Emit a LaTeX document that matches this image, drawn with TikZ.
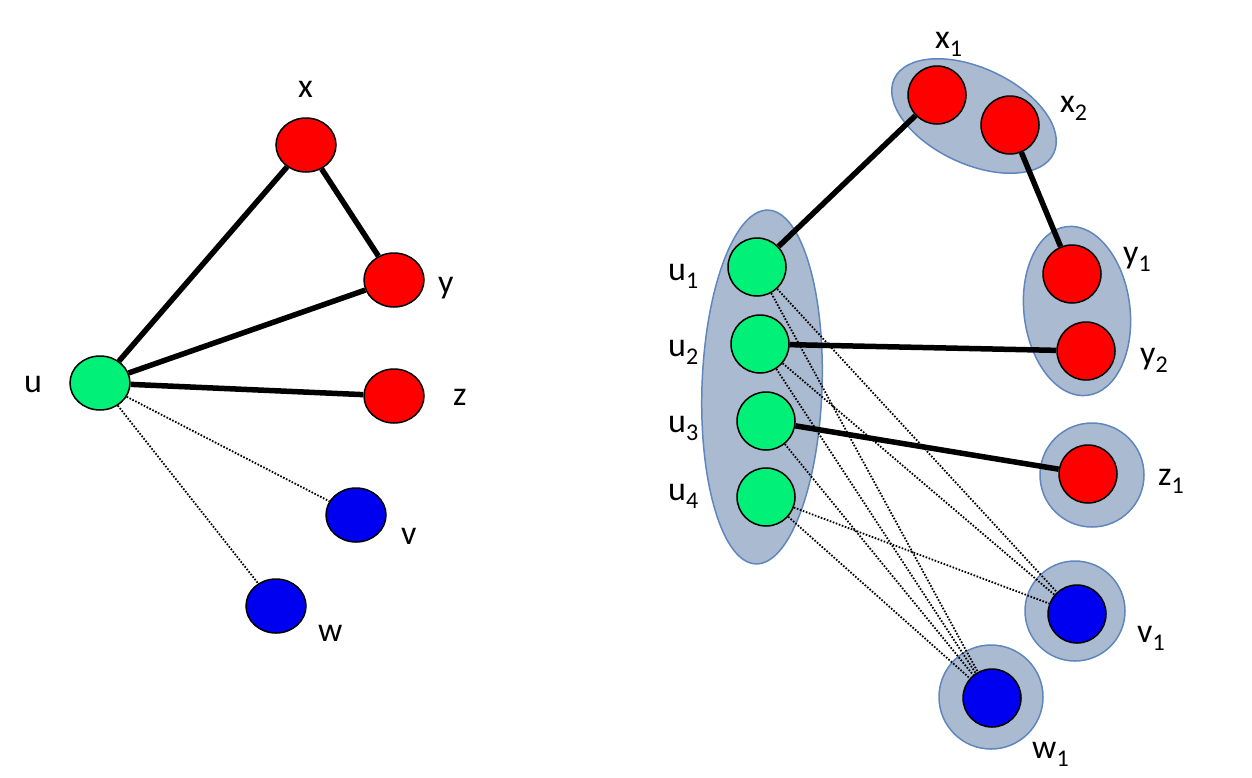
\documentclass[tikz,border=0pt]{standalone}
\usepackage{fontspec}
\setmainfont{Carlito}
\usetikzlibrary{shapes.geometric}
\definecolor{nred}{RGB}{255,0,0}
\definecolor{ngreen}{RGB}{0,240,120}
\definecolor{nblue}{RGB}{0,0,240}
\definecolor{blobfill}{RGB}{170,186,209}
\definecolor{blobline}{RGB}{95,135,190}
\newcommand\lsub[1]{\raisebox{-8pt}{\fontsize{24}{24}\selectfont #1}}
\tikzset{
  lnode/.style={ellipse, draw=black, line width=1.5pt, inner sep=0pt, minimum width=60pt, minimum height=54pt},
  rnode/.style={circle, draw=black, line width=1.5pt, inner sep=0pt, minimum size=58pt},
  blob/.style={ellipse, draw=blobline, fill=blobfill, line width=1.5pt, inner sep=0pt},
  ring/.style={circle, draw=blobline, fill=blobfill, line width=1.5pt, inner sep=0pt},
  solidedge/.style={line width=5.5pt, black},
  dotedge/.style={line width=1.8pt, black, dash pattern=on 1.6pt off 1.6pt},
  lab/.style={anchor=base west, inner sep=0pt, font=\fontsize{34}{36}\selectfont}
}
\begin{document}
\begin{tikzpicture}[x=1pt,y=-1pt]
\useasboundingbox (0,0) rectangle (1252,777);
% ---------- left graph ----------
\node[lnode, fill=nred] (x) at (306,145) {};
\node[lnode, fill=nred] (y) at (394,280) {};
\node[lnode, fill=ngreen] (u) at (100,383) {};
\node[lnode, fill=nred] (z) at (394,396) {};
\node[lnode, fill=nblue] (v) at (356,515) {};
\node[lnode, fill=nblue] (w) at (276,606) {};
\draw[solidedge] (u) -- (x);
\draw[solidedge] (x) -- (y);
\draw[solidedge] (u) -- (y);
\draw[solidedge] (u) -- (z);
\draw[dotedge] (u) -- (v);
\draw[dotedge] (u) -- (w);
\node[lab] (lx) at (298,97) {x};
\node[lab] (ly) at (438,293) {y};
\node[lab] (lu) at (24,392) {u};
\node[lab] (lz) at (453,405) {z};
\node[lab] (lv) at (401,544) {v};
\node[lab] (lw) at (318,641) {w};
% ---------- right graph: groups ----------
\node[blob, minimum width=176pt, minimum height=96pt, rotate=-25] (X) at (974,116) {};
\node[blob, minimum width=120pt, minimum height=354pt, rotate=-2] (U) at (762,387) {};
\node[blob, minimum width=106pt, minimum height=170pt, rotate=7] (Y) at (1077,311) {};
\node[ring, minimum size=104pt] (Z) at (1092,475) {};
\node[ring, minimum size=100pt] (V) at (1075,611) {};
\node[ring, minimum size=104pt] (W) at (991,697) {};
% ---------- right graph: nodes ----------
\node[rnode, fill=nred] (x1) at (937,95) {};
\node[rnode, fill=nred] (x2) at (1010,125) {};
\node[rnode, fill=nred] (y1) at (1072,274) {};
\node[rnode, fill=nred] (y2) at (1086,351) {};
\node[rnode, fill=nred] (z1) at (1088,474) {};
\node[rnode, fill=nblue] (v1) at (1077,614) {};
\node[rnode, fill=nblue] (w1) at (992,698) {};
\node[rnode, fill=ngreen] (u1) at (757,267) {};
\node[rnode, fill=ngreen] (u2) at (760,344) {};
\node[rnode, fill=ngreen] (u3) at (766,421) {};
\node[rnode, fill=ngreen] (u4) at (766,497) {};
% ---------- right graph: edges ----------
\draw[solidedge] (u1) -- (x1);
\draw[solidedge] (x2) -- (y1);
\draw[solidedge] (u2) -- (y2);
\draw[solidedge] (u3) -- (z1);
\draw[dotedge] (u1) -- (v1);
\draw[dotedge] (u1) -- (w1);
\draw[dotedge] (u2) -- (v1);
\draw[dotedge] (u2) -- (w1);
\draw[dotedge] (u3) -- (w1);
\draw[dotedge] (u4) -- (v1);
\draw[dotedge] (u4) -- (w1);
% ---------- right graph: labels ----------
\node[lab] (lx1) at (935,48) {x\lsub{1}};
\node[lab] (lx2) at (1060,112) {x\lsub{2}};
\node[lab] (ly1) at (1123,263) {y\lsub{1}};
\node[lab] (ly2) at (1140,364) {y\lsub{2}};
\node[lab] (lz1) at (1158,485) {z\lsub{1}};
\node[lab] (lv1) at (1137,642) {v\lsub{1}};
\node[lab] (lw1) at (1032,758) {w\lsub{1}};
\node[lab] (lu1) at (668,280) {u\lsub{1}};
\node[lab] (lu2) at (668,356) {u\lsub{2}};
\node[lab] (lu3) at (668,432) {u\lsub{3}};
\node[lab] (lu4) at (668,500) {u\lsub{4}};
\end{tikzpicture}
\end{document}
